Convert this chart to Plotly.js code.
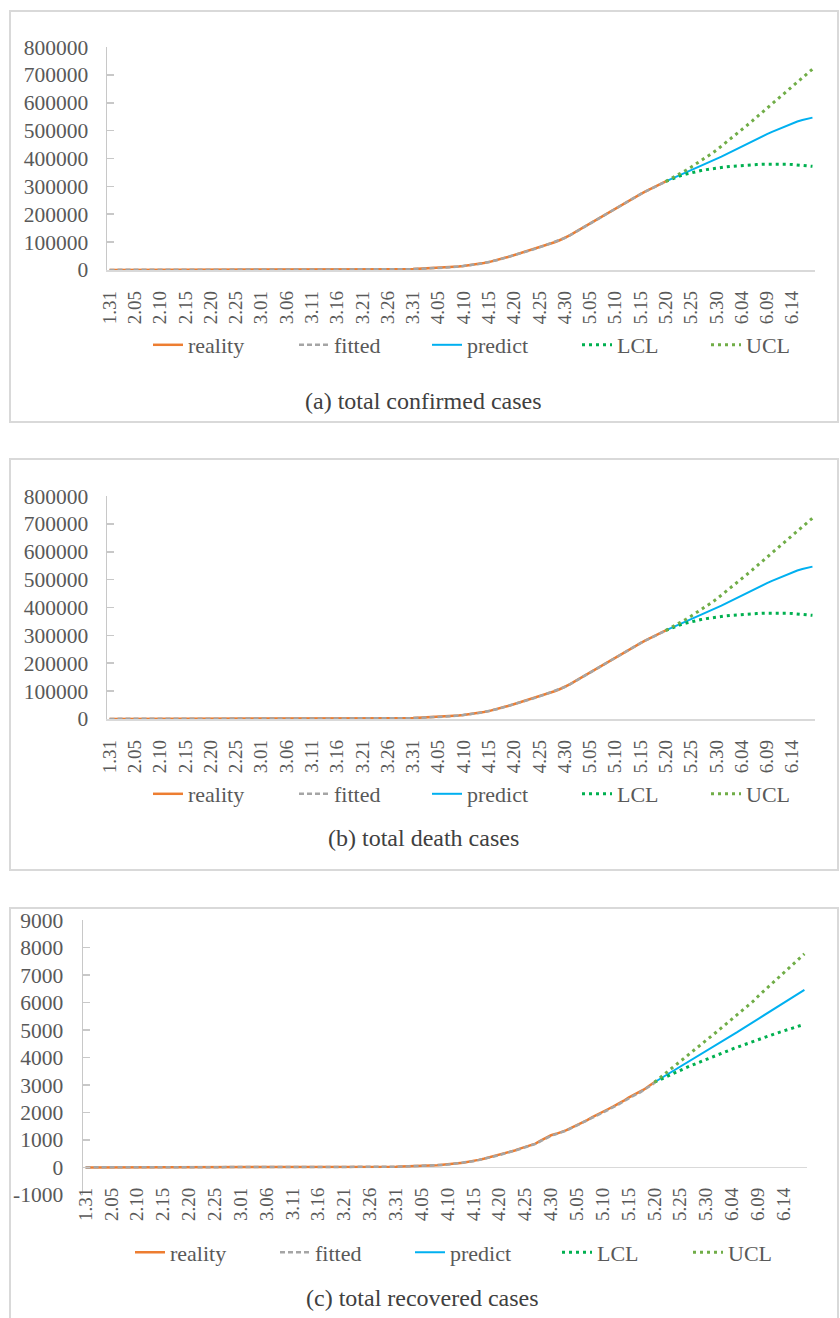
<!DOCTYPE html>
<html><head><meta charset="utf-8">
<script src="https://cdn.plot.ly/plotly-3.0.1.min.js"></script>
<style>
html,body{margin:0;padding:0;background:#fff;overflow:hidden;width:840px;height:1318px;font-family:"Liberation Serif","Times New Roman",serif;}
.panel{position:absolute;box-sizing:content-box;border:2px solid #d9d9d9;background:#fff;}
</style></head><body>
<div id="pa" class="panel" style="left:9px;top:10px;width:826px;height:409px;"></div>
<div id="pb" class="panel" style="left:9px;top:458px;width:826px;height:409px;"></div>
<div id="pc" class="panel" style="left:9px;top:907px;width:826px;height:420px;"></div>
<script>
// ---- categories: daily dates 1.31 .. 6.18 (2020) ----
const monthLengths = [[2, 29], [3, 31], [4, 30], [5, 31], [6, 18]];
const dates = ['1.31'];
monthLengths.forEach(([m, n]) => { for (let d = 1; d <= n; d++) dates.push(m + '.' + (d < 10 ? '0' + d : d)); });

const tickLabels = ['1.31','2.05','2.10','2.15','2.20','2.25','3.01','3.06','3.11','3.16','3.21','3.26','3.31',
  '4.05','4.10','4.15','4.20','4.25','4.30','5.05','5.10','5.15','5.20','5.25','5.30','6.04','6.09','6.14'];

// ---- (a)/(b) total confirmed cases (panel b shows the same curves in the source figure) ----
const realityA = [2,2,2,2,2,2,2,2,2,2,2,2,2,2,2,2,2,2,2,2,2,2,2,2,2,2,2,2,2,2,
  3,3,3,4,13,13,17,17,20,20,28,45,59,63,90,114,147,199,253,306,367,438,495,658,840,1036,1264,1534,1836,2337,
  2777,3548,4149,4731,5389,6343,7497,8672,10131,11917,13584,15770,18328,21102,24490,27938,32008,36793,42853,47121,
  52763,57999,62773,68622,74588,80949,87147,93558,99399,106498,114431,124054,134687,145268,155370,165929,177160,187859,198676,209688,
  221344,232243,242271,252245,262843,272043,281752,290678,299941,308705,317554];
const fittedA = [2,2,2,2,2,2,2,2,2,2,2,2,2,2,2,2,2,2,2,2,2,2,2,2,2,2,2,2,2,2,
  2,3,3,3,8,14,15,19,19,22,25,38,54,66,82,110,142,188,245,304,362,431,505,628,812,1018,1248,1522,1842,2280,
  2790,3470,4160,4790,5450,6340,7450,8660,10080,11830,13610,15720,18250,21080,24370,27960,31950,36680,42450,47380,
  52690,58020,62980,68580,74510,80790,87080,93410,99560,106250,114080,123580,134290,145050,155420,165860,176830,187640,198520,209470,
  220890,231960,242290,252340,262610,272130,281540,290730,299760,308610,317380];
const predictA = [317554,325600,333500,341200,348900,356700,364800,373300,381800,390100,398200,
  406900,416000,425300,434500,443400,452000,460600,469500,478600,487400,495700,503500,511300,519300,527000,532800,538200,542700,546800];
const lclA = [317554,325500,332500,338600,344000,348800,353000,356800,360100,363000,365600,
  367900,370000,371900,373600,375100,376400,377500,378400,379100,379600,379900,380000,379800,379300,378500,377300,375800,374000,371900];
const uclA = [317554,327000,337000,347300,358000,369000,380500,392300,404500,417000,430000,
  444200,458600,473200,488000,503000,518200,533500,549000,564600,580300,596100,612000,628000,644000,660000,675800,691200,706300,721000];

// ---- (c) panel ----
const realityC = [0,0,0,0,0,0,0,0,0,0,0,0,0,0,0,0,0,0,0,0,0,0,0,0,0,0,0,0,0,0,0,0,0,0,0,0,0,0,0,0,0,0,0,0,0,0,
  0,1,1,1,1,1,1,3,3,4,4,8,9,17,24,30,34,43,45,47,58,63,76,94,106,130,148,170,198,232,273,313,361,405,
  456,513,555,615,681,747,794,867,972,1073,1169,1222,1280,1356,1451,1537,1625,1723,1827,1915,
  2009,2116,2212,2305,2418,2537,2631,2722,2837,2972,3099];
const fittedC = [0,0,0,0,0,0,0,0,0,0,0,0,0,0,0,0,0,0,0,0,0,0,0,0,0,0,0,0,0,0,0,0,0,0,0,0,0,0,0,0,0,0,0,0,0,0,
  0,0,1,1,1,1,2,2,3,4,5,7,10,15,22,29,34,40,45,49,56,63,74,90,104,124,144,166,193,226,265,306,353,398,
  448,503,550,606,670,734,785,855,955,1058,1151,1213,1272,1344,1436,1522,1610,1706,1808,1898,
  1990,2094,2192,2286,2396,2513,2610,2703,2814,2946,3072];
const predictC = [3099,3213,3322,3425,3530,3641,3758,3876,3990,4101,4215,4334,4455,4572,4686,4801,4921,5043,5161,5276,
  5392,5512,5634,5753,5868,5985,6106,6228,6344,6458];
const lclC = [3099,3190,3280,3368,3454,3538,3620,3700,3779,3857,3934,4010,4085,4159,4232,4304,4375,4445,4514,4582,
  4649,4715,4780,4844,4907,4969,5030,5090,5149,5207];
const uclC = [3099,3249,3399,3550,3701,3853,4005,4158,4311,4465,4619,4774,4929,5085,5241,5398,5555,5713,5871,6030,
  6220,6390,6560,6732,6905,7078,7251,7425,7600,7775];

const yTicksA = [0, 100000, 200000, 300000, 400000, 500000, 600000, 700000, 800000];
const yTicksC = [-1000, 0, 1000, 2000, 3000, 4000, 5000, 6000, 7000, 8000, 9000];

const seriesNames = ['reality', 'fitted', 'predict', 'LCL', 'UCL'];
const captions = ['(a) total confirmed cases', '(b) total death cases', '(c) total recovered cases'];

const FONT = '"Liberation Serif", "Times New Roman", Times, "DejaVu Serif", serif';
const TXT = '#595959';

function makePanel(id, cfg) {
  const W = 826, H = cfg.H;
  const m = cfg.m;
  const pw = W - m.l - m.r, ph = H - m.t - m.b;
  const px = (x) => (x - m.l) / pw;
  const py = (y) => 1 - (y - m.t) / ph;
  const nFit = cfg.reality.length;
  const xFit = dates.slice(0, nFit);
  const xPred = dates.slice(nFit - 1, nFit - 1 + cfg.predict.length);
  const lw = cfg.legendWidths;
  const traces = [
    {x: xFit, y: cfg.reality, name: seriesNames[0], mode: 'lines', line: {color: '#ED7D31', width: 2.5}, legendwidth: lw[0]},
    {x: xFit, y: cfg.fitted, name: seriesNames[1], mode: 'lines', line: {color: '#A5A5A5', width: 2.5, dash: '5px,3px'}, legendwidth: lw[1]},
    {x: xPred, y: cfg.predict, name: seriesNames[2], mode: 'lines', line: {color: '#00B0F0', width: 2}, legendwidth: lw[2]},
    {x: xPred, y: cfg.lcl, name: seriesNames[3], mode: 'lines', line: {color: '#00B050', width: 3, dash: '3px,4px'}, legendwidth: lw[3]},
    {x: xPred, y: cfg.ucl, name: seriesNames[4], mode: 'lines', line: {color: '#70AD47', width: 3, dash: '3px,4px'}, legendwidth: lw[4]}
  ];
  const span = cfg.yTicks[cfg.yTicks.length - 1] - cfg.yTicks[0];
  const layout = {
    width: W, height: H, margin: m,
    paper_bgcolor: '#fff', plot_bgcolor: '#fff',
    font: {family: FONT, color: TXT},
    showlegend: true,
    xaxis: {
      type: 'category', categoryorder: 'array', categoryarray: dates,
      range: [-0.5, dates.length - 0.5], fixedrange: true,
      tickmode: 'array', tickvals: tickLabels, ticktext: tickLabels,
      tickangle: -90, tickfont: {family: FONT, size: 19, color: TXT},
      ticks: '', showgrid: false, zeroline: false,
      showline: cfg.xLine, linecolor: '#d9d9d9', linewidth: 1.5,
      ticklabelstandoff: cfg.xStandoff, ticklabeloverflow: 'allow'
    },
    yaxis: {
      range: [cfg.yTicks[0] - span * 0.0005, cfg.yTicks[cfg.yTicks.length - 1] + span * 0.0005], fixedrange: true,
      tickmode: 'array', tickvals: cfg.yTicks, ticktext: cfg.yTicks.map(String),
      showgrid: false, zeroline: cfg.zeroLine, zerolinecolor: '#d9d9d9', zerolinewidth: 1.5,
      showline: true, linecolor: '#c8c8c8', linewidth: 1.5,
      ticks: 'inside', ticklen: 7, tickcolor: '#c8c8c8', tickwidth: 1.5,
      tickfont: {family: FONT, size: 21.5, color: TXT},
      ticklabelstandoff: cfg.yStandoff, ticklabeloverflow: 'allow'
    },
    legend: {
      orientation: 'h', x: px(cfg.legendX), y: py(cfg.legendY), xanchor: 'left', yanchor: 'middle',
      font: {family: FONT, size: 22, color: TXT}, bgcolor: 'rgba(0,0,0,0)', traceorder: 'normal',
      itemclick: false, itemdoubleclick: false
    },
    annotations: [{
      text: cfg.caption, xref: 'paper', yref: 'paper', x: px(cfg.capX), y: py(cfg.capY),
      xanchor: 'center', yanchor: 'middle', showarrow: false,
      font: {family: FONT, size: 24, color: '#404040'}
    }]
  };
  Plotly.newPlot(id, traces, layout, {displayModeBar: false, staticPlot: true});
}

makePanel('pa', {H: 409, m: {l: 96, r: 22, t: 35, b: 151}, reality: realityA, fitted: fittedA, predict: predictA, lcl: lclA, ucl: uclA,
  yTicks: yTicksA, zeroLine: false, xLine: true, xStandoff: 12, yStandoff: 13,
  legendX: 137, legendY: 333, legendWidths: [101, 88, 105, 84, 50], caption: captions[0], capX: 412, capY: 389});
makePanel('pb', {H: 409, m: {l: 96, r: 22, t: 36, b: 150}, reality: realityA, fitted: fittedA, predict: predictA, lcl: lclA, ucl: uclA,
  yTicks: yTicksA, zeroLine: false, xLine: true, xStandoff: 12, yStandoff: 13,
  legendX: 137, legendY: 334, legendWidths: [101, 88, 105, 84, 50], caption: captions[1], capX: 412, capY: 378});
makePanel('pc', {H: 420, m: {l: 72, r: 30, t: 11, b: 133.5}, reality: realityC, fitted: fittedC, predict: predictC, lcl: lclC, ucl: uclC,
  yTicks: yTicksC, zeroLine: true, xLine: false, xStandoff: -12, yStandoff: 14,
  legendX: 119, legendY: 344, legendWidths: [100, 90, 102, 86, 50], caption: captions[2], capX: 411, capY: 390});
</script>
</body></html>
